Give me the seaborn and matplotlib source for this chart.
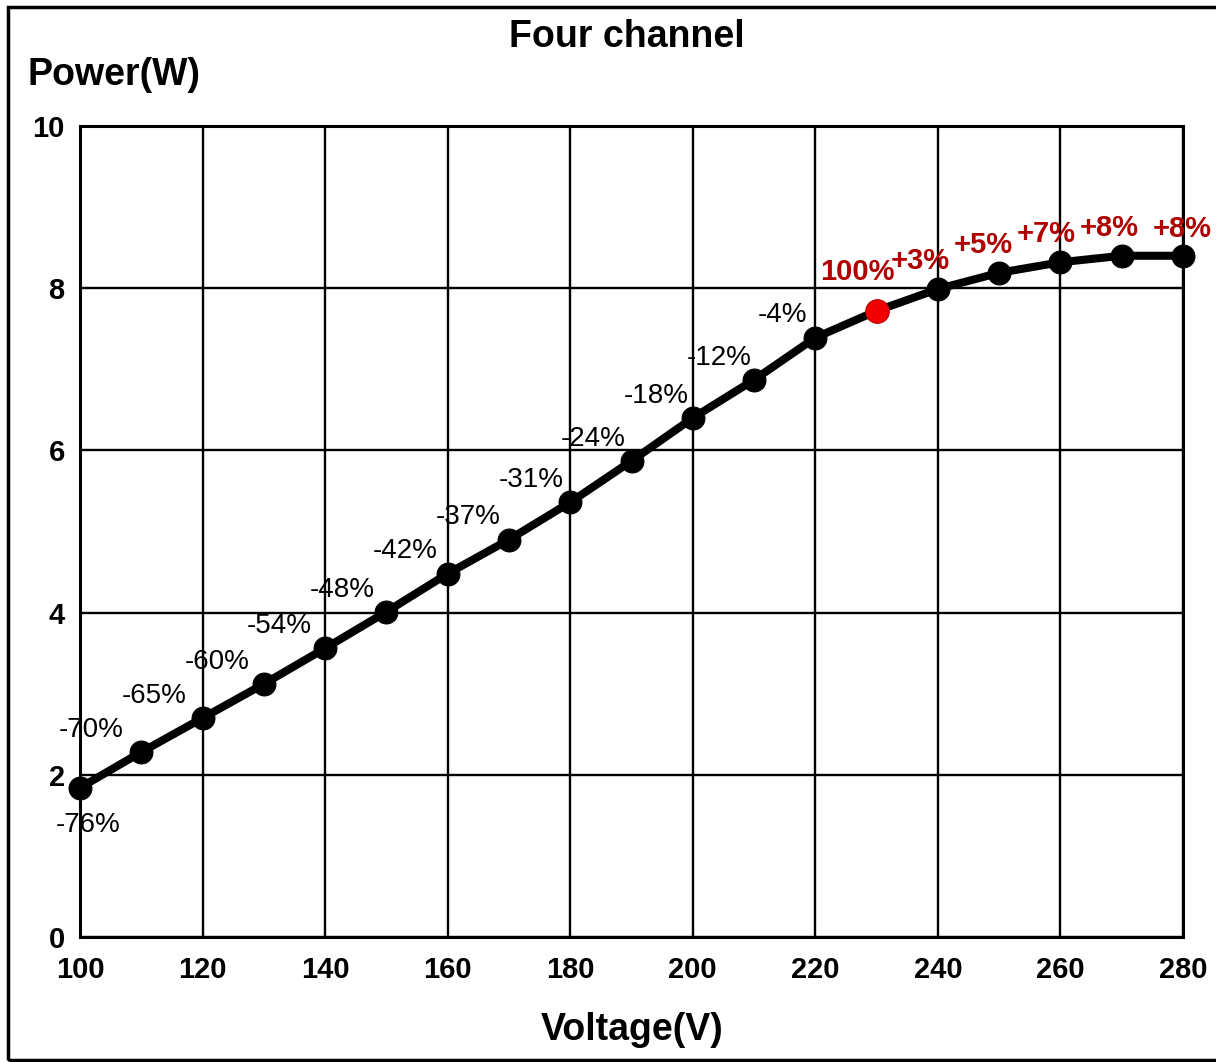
import matplotlib
matplotlib.use("Agg")
import matplotlib.pyplot as plt
import seaborn as sns
import pandas as pd
from matplotlib.patches import Rectangle

voltage = [100, 110, 120, 130, 140, 150, 160, 170, 180, 190, 200, 210, 220, 230, 240, 250, 260, 270, 280]
power = [1.84, 2.28, 2.70, 3.12, 3.56, 4.01, 4.48, 4.90, 5.36, 5.87, 6.40, 6.87, 7.39, 7.72, 7.99, 8.19, 8.32, 8.40, 8.40]
change_labels = ["-76%", "-70%", "-65%", "-60%", "-54%", "-48%", "-42%", "-37%", "-31%", "-24%",
                 "-18%", "-12%", "-4%", "100%", "+3%", "+5%", "+7%", "+8%", "+8%"]
reference_voltage = 230
x_ticks = [100, 120, 140, 160, 180, 200, 220, 240, 260, 280]
y_ticks = [0, 2, 4, 6, 8, 10]

df = pd.DataFrame({"Voltage": voltage, "Power": power, "Label": change_labels})

sns.set_theme(style="white")
plt.rcParams["font.family"] = ["Liberation Sans", "DejaVu Sans"]
for k in ["text.color", "axes.labelcolor", "xtick.color", "ytick.color"]:
    plt.rcParams[k] = "black"

fig = plt.figure(figsize=(12.16, 10.62), dpi=100)
ax = fig.add_axes([80 / 1216, 1 - 937 / 1062, (1183 - 80) / 1216, (937 - 126) / 1062])

sns.lineplot(data=df, x="Voltage", y="Power", ax=ax, color="black", linewidth=5.8,
             marker="o", markersize=16.5, markeredgecolor="black", markerfacecolor="black",
             zorder=3, clip_on=False)
ref = df[df["Voltage"] == reference_voltage]
sns.scatterplot(data=ref, x="Voltage", y="Power", ax=ax, color="#f00000", s=280,
                edgecolor="#d00000", linewidth=1, zorder=4, clip_on=False)

ax.set_xlim(100, 280)
ax.set_ylim(0, 10)
ax.set_xticks(x_ticks)
ax.set_yticks(y_ticks)
ax.grid(True, color="black", linewidth=1.7)
ax.set_axisbelow(True)
for s in ax.spines.values():
    s.set_color("black")
    s.set_linewidth(2.2)
ax.tick_params(axis="x", length=0, pad=14, labelsize=21)
ax.tick_params(axis="y", length=0, pad=11, labelsize=21)
for t in ax.get_xticklabels() + ax.get_yticklabels():
    t.set_fontweight("bold")
ax.set_xlabel("")
ax.set_ylabel("")

n_ref = voltage.index(reference_voltage)
for i, (v, p, lab) in enumerate(zip(voltage, power, change_labels)):
    ha = "center"
    if i == 0:
        off, col, fw, fs = (6, -27), "black", "normal", 20
    elif i < n_ref:
        dx = -36 + 12 * (i - 1) / (n_ref - 2)
        off, col, fw, fs = (dx, 16), "black", "normal", 20
    elif i == len(voltage) - 1:
        off, col, fw, fs, ha = (21, 19), "#b00000", "bold", 21, "right"
    else:
        dx = -14 + 5 * (i - n_ref) / 4
        off, col, fw, fs = (dx, 20 if i > n_ref else 28), "#b00000", "bold", 21
    ax.annotate(lab, (v, p), xytext=off, textcoords="offset points", ha=ha, va="center",
                fontsize=fs, fontweight=fw, color=col, annotation_clip=False, zorder=5)

fig.text(627 / 1216, 1 - 37 / 1062, "Four channel", ha="center", va="center", fontsize=27, fontweight="bold")
fig.text(27 / 1216, 1 - 75 / 1062, "Power(W)", ha="left", va="center", fontsize=27, fontweight="bold")
fig.text(632 / 1216, 1 - 1030 / 1062, "Voltage(V)", ha="center", va="center", fontsize=27, fontweight="bold")

fig.patches.append(Rectangle((8 / 1216, 0.002), 1.2, 1 - 7 / 1062 - 0.002, transform=fig.transFigure,
                             fill=False, edgecolor="black", linewidth=2.5, clip_on=False))

fig.savefig("out.png", dpi=100)
